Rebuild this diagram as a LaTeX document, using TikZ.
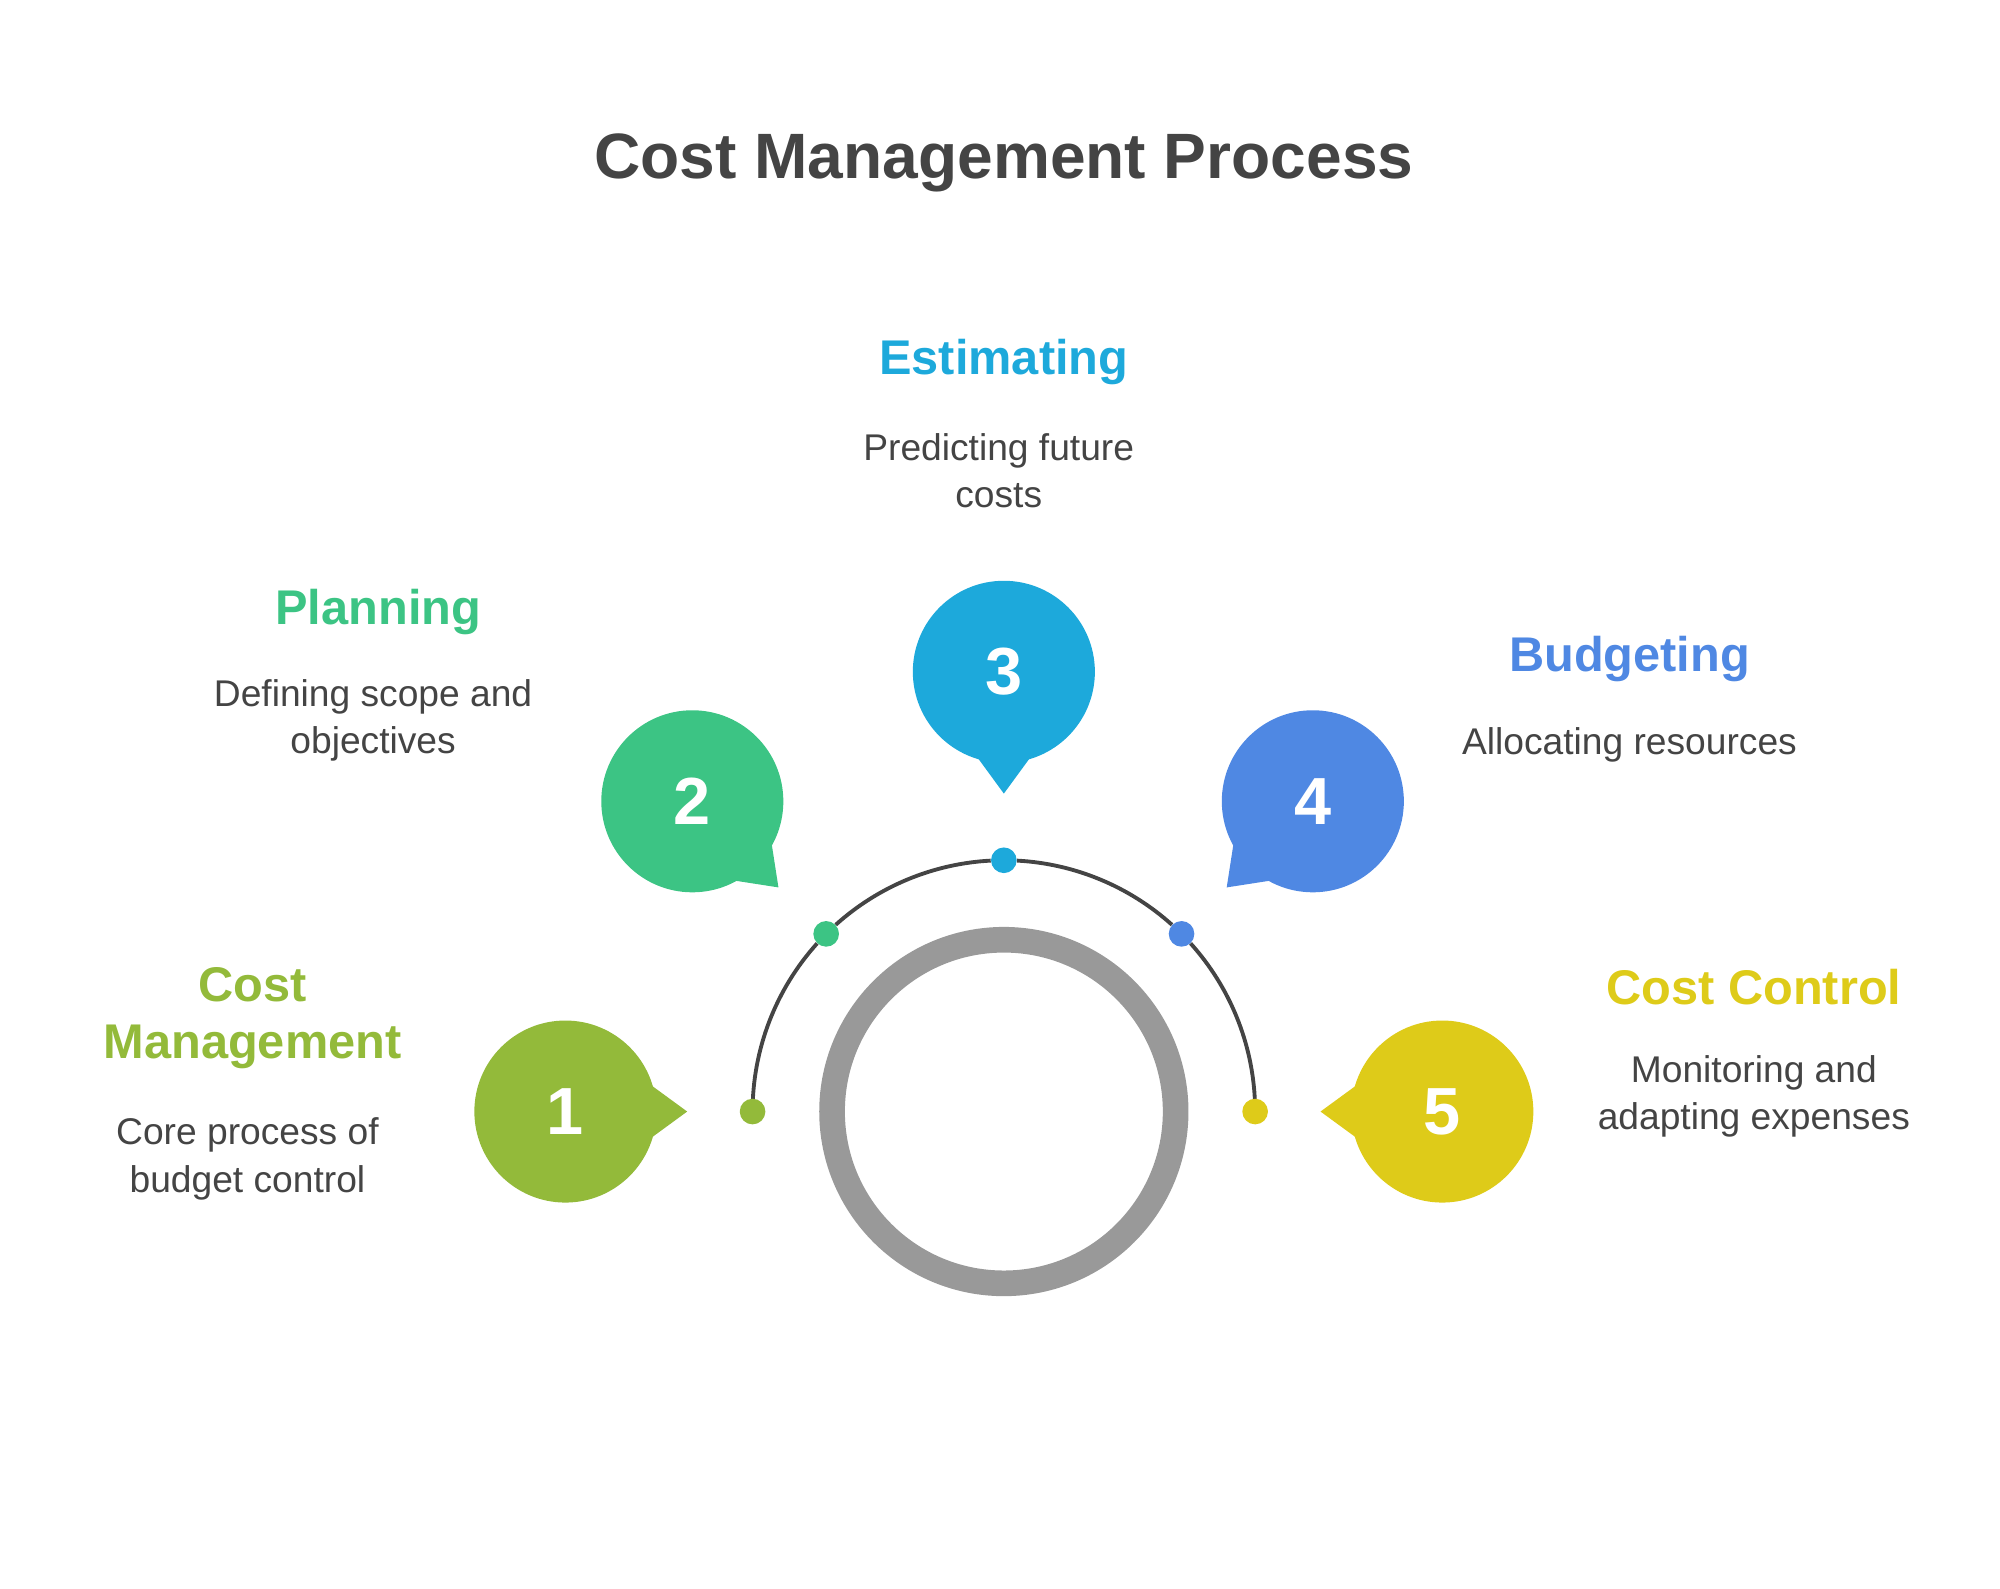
\documentclass[tikz,border=0pt]{standalone}
\usepackage{fontspec}
\setmainfont{Liberation Sans}
\usetikzlibrary{calc}
\begin{document}
\begin{tikzpicture}[x=1pt,y=-1pt,
  head/.style={font=\fontsize{38}{44}\selectfont\bfseries,align=center},
  desc/.style={font=\fontsize{29}{37}\selectfont,text=txt,align=center},
  num/.style={font=\fontsize{52}{60}\selectfont\bfseries,text=white}]
\definecolor{txt}{HTML}{444444}
\definecolor{cA}{HTML}{93BA3A}\definecolor{cB}{HTML}{3CC484}
\definecolor{cC}{HTML}{1DA9DB}\definecolor{cD}{HTML}{4F88E3}\definecolor{cE}{HTML}{DECB19}
\useasboundingbox (0,0) rectangle (1560,1239);
\node[font=\fontsize{50}{58}\selectfont\bfseries,text=txt] (title) at (783,127) {Cost Management Process};
\coordinate (O) at (783,867);
\draw[line width=20pt,color=black!40] (O) circle[radius=134];
% arc
\foreach \a/\b in {180/138,132/93,87/48,42/2}{
  \draw[line width=3pt,txt] ($(O)+({cos(\a)*196},{-sin(\a)*196})$) arc[start angle=-\a,end angle=-\b,radius=196];}
\foreach \a/\c [count=\i] in {180/cA,135/cB,90/cC,45/cD,0/cE}{
  \fill[\c] ($(O)+({cos(\a)*196},{-sin(\a)*196})$) circle[radius=10];}
% bubbles
\foreach \x/\y/\ang/\c/\n in {441/867/0/cA/1,540/625/-45/cB/2,783/524/-90/cC/3,1024/625/-135/cD/4,1125/867/180/cE/5}{
  \fill[\c] (\x,\y) circle[radius=71];
  \fill[\c] ($(\x,\y)+({cos(\ang+25)*64},{-sin(\ang+25)*64})$) -- ($(\x,\y)+({cos(\ang)*95},{-sin(\ang)*95})$) -- ($(\x,\y)+({cos(\ang-25)*64},{-sin(\ang-25)*64})$) -- cycle;
  \node[num] (b\n) at (\x,\y) {\n};}
\node[head,text=cA] (h1) at (197,794) {Cost\\Management};
\node[desc] (t1) at (193,904) {Core process of\\budget control};
\node[head,text=cB] (h2) at (295,477) {Planning};
\node[desc] (t2) at (291,562) {Defining scope and\\objectives};
\node[head,text=cC] (h3) at (783,282) {Estimating};
\node[desc] (t3) at (779,367) {Predicting future\\costs};
\node[head,text=cD] (h4) at (1271,514) {Budgeting};
\node[desc] (t4) at (1271,581) {Allocating resources};
\node[head,text=cE] (h5) at (1368,770) {Cost Control};
\node[desc] (t5) at (1368,855) {Monitoring and\\adapting expenses};
\end{tikzpicture}
\end{document}
